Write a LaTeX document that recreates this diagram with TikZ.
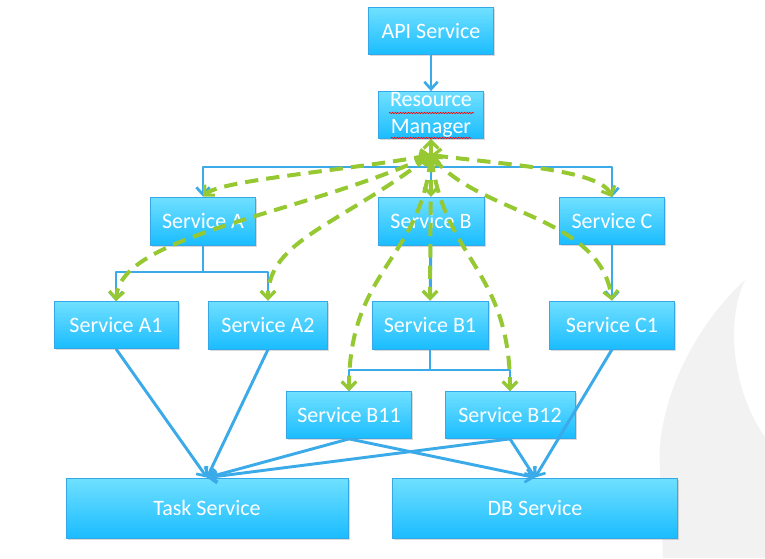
\documentclass[tikz,border=0pt]{standalone}
\usepackage{fontspec}
\setmainfont{Carlito}
\usetikzlibrary{arrows.meta,shadows,decorations.pathmorphing}

\definecolor{boxtop}{RGB}{112,224,255}
\definecolor{boxbot}{RGB}{26,188,255}
\definecolor{boxedge}{RGB}{52,168,232}
\definecolor{linkblue}{RGB}{59,170,232}
\definecolor{ctrlgreen}{RGB}{150,200,50}
\definecolor{flame}{RGB}{242,242,242}

\tikzset{
  svc/.style 2 args={draw=boxedge, line width=.6pt, top color=boxtop, bottom color=boxbot,
    text=white, font=\fontsize{16.5}{17}\selectfont, align=center, inner sep=0pt,
    minimum width=#1*.75pt, minimum height=#2*.75pt,
    drop shadow={shadow xshift=1.2pt, shadow yshift=-1.2pt, opacity=.3}},
  link/.style={draw=linkblue, line width=2.2pt, line join=round},
  linkarrow/.style={link, -{Straight Barb[length=5.5pt,width=10pt,line width=2pt]}},
  ctrl/.style={draw=ctrlgreen, line width=3pt, dash pattern=on 10pt off 6pt},
  ctrlarrow/.style={ctrl, -{Straight Barb[length=5.5pt,width=11pt,line width=2.4pt]}},
  ctrlboth/.style={ctrl, {Straight Barb[length=5.5pt,width=11pt,line width=2.4pt]}-{Straight Barb[length=5.5pt,width=11pt,line width=2.4pt]}},
  typo/.style={draw=red, line width=.5pt, decorate, decoration={snake, amplitude=.5pt, segment length=2pt}}
}

\begin{document}
\begin{tikzpicture}[x=0.75pt,y=-0.75pt]
  \useasboundingbox (0,0) rectangle (765,558);
  % grey flame in the corner
  \fill[flame] (745,280) .. controls (690,330) and (655,410) .. (660,470)
    -- (663,558) -- (765,558) -- (765,437) .. controls (738,400) and (722,330) .. (745,280);

  % services
  \node[svc={125}{47}] (api)  at (431,31)  {API Service};
  \node[svc={105}{47}, font=\fontsize{16.5}{20}\selectfont] (rm) at (431,115) {Resource\\Manager};
  \node[svc={105}{48}] (sa)   at (203,221) {Service A};
  \node[svc={106}{48}] (sb)   at (431,221) {Service B};
  \node[svc={105}{47}] (sc)   at (612,221) {Service C};
  \node[svc={124}{47}] (sa1)  at (116,325) {Service A1};
  \node[svc={119}{48}] (sa2)  at (268,325) {Service A2};
  \node[svc={116}{48}] (sb1)  at (430,325) {Service B1};
  \node[svc={125}{48}] (sc1)  at (612,325) {Service C1};
  \node[svc={125}{47}] (sb11) at (349,415) {Service B11};
  \node[svc={130}{47}] (sb12) at (510,415) {Service B12};
  \node[svc={282}{60}] (task) at (207,508) {Task Service};
  \node[svc={285}{60}] (db)   at (535,508) {DB Service};

  % spell check marks
  \draw[typo] (389,113) -- (474,113);
  \draw[typo] (391,138) -- (471,138);

  % blue calls
  \draw[linkarrow] (api) -- (rm);
  \draw[link] (rm.south) -- (431,167) coordinate (rmbus);
  \draw[linkarrow] (rmbus) -| (sa.north);
  \draw[linkarrow] (rmbus) -| (sc.north);
  \draw[linkarrow] (rmbus) -- (sb.north);
  \draw[link] (sa.south) -- (203,272) coordinate (abus);
  \draw[linkarrow] (abus) -| (sa1.north);
  \draw[linkarrow] (abus) -| (sa2.north);
  \draw[linkarrow] (sb) -- (sb1);
  \draw[link] (sb1.south) -- (430,370) coordinate (bbus);
  \draw[linkarrow] (bbus) -| (sb11.north);
  \draw[linkarrow] (bbus) -| (sb12.north);
  \draw[linkarrow] (sc) -- (sc1);
  \foreach \s in {sa1,sa2,sb11,sb12}
    \draw[linkarrow] (\s.south) -- (task.north);
  \foreach \s in {sb11,sb12,sc1}
    \draw[linkarrow] (\s.south) -- (db.north);

  % green control links
  \coordinate (gh) at (431,155);
  \draw[ctrlarrow] (gh) -- (rm.south);
  \draw[ctrlboth] (gh) .. controls (350,170) and (220,180) .. (sa.north);
  \draw[ctrlboth] (gh) .. controls (510,165) and (600,170) .. (sc.north);
  \draw[ctrlboth] (gh) -- (sb.north);
  \draw[ctrlboth] (gh) .. controls (300,215) and (120,235) .. (sa1.north);
  \draw[ctrlboth] (gh) .. controls (340,225) and (268,240) .. (sa2.north);
  \draw[ctrlboth] (gh) -- (sb1.north);
  \draw[ctrlboth] (gh) .. controls (420,260) and (349,270) .. (sb11.north);
  \draw[ctrlboth] (gh) .. controls (445,260) and (510,270) .. (sb12.north);
  \draw[ctrlboth] (gh) .. controls (480,215) and (600,215) .. (sc1.north);
\end{tikzpicture}
\end{document}
